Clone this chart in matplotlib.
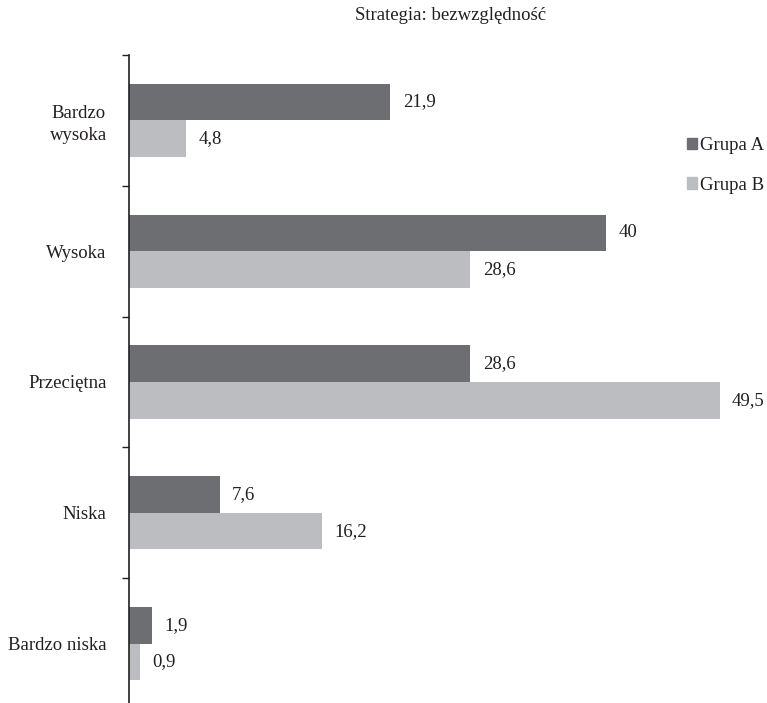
import numpy as np
import matplotlib.pyplot as plt
from matplotlib.patches import Patch

plt.rcParams['font.family'] = ['Liberation Serif', 'DejaVu Serif']

categories = ["Bardzo\nwysoka", "Wysoka", "Przeciętna", "Niska", "Bardzo niska"]
grupa_a = [21.9, 40, 28.6, 7.6, 1.9]
grupa_b = [4.8, 28.6, 49.5, 16.2, 0.9]
series_names = ["Grupa A", "Grupa B"]
title = "Strategia: bezwzględność"

dark = "#6d6e72"
light = "#bcbdc1"
ink = "#231f20"
fs = 13.5

W, H = 767, 703
fig = plt.figure(figsize=(W / 100, H / 100), dpi=100)
ax = fig.add_axes([129 / W, -6 / H, 638 / W, 654 / H])

y = np.arange(len(categories))
h = 0.28
bars_a = ax.barh(y - h / 2, grupa_a, height=h, color=dark)
bars_b = ax.barh(y + h / 2, grupa_b, height=h, color=light)

def fmt(v):
    return f"{v:g}".replace('.', ',')

for bars, vals in ((bars_a, grupa_a), (bars_b, grupa_b)):
    for b, v in zip(bars, vals):
        ax.annotate(fmt(v), (v, b.get_y() + b.get_height() / 2),
                    xytext=(9, 0), textcoords='offset points',
                    ha='left', va='center', fontsize=fs, color=ink)

ax.set_xlim(0, 638 / 11.93)
ax.set_ylim(len(categories) - 0.5, -0.5)

ax.set_yticks(y)
ax.set_yticklabels(categories, fontsize=fs, color=ink, multialignment='center',
                   linespacing=1.35)
ax.tick_params(axis='y', which='major', length=0, pad=16)
ax.set_yticks(np.arange(-0.5, len(categories) - 0.5), minor=True)
ax.tick_params(axis='y', which='minor', length=5, width=1, color=ink)

for s in ('top', 'right', 'bottom'):
    ax.spines[s].set_visible(False)
ax.spines['left'].set_color(ink)
ax.spines['left'].set_linewidth(1.2)
ax.set_xticks([])

handles = [Patch(color=dark), Patch(color=light)]
fig.legend(handles, series_names, loc='upper left',
           bbox_to_anchor=(687 / W, 1 - 137 / H), frameon=False,
           borderpad=0, borderaxespad=0,
           fontsize=fs, handlelength=0.55, handleheight=0.55,
           handletextpad=0.15, labelspacing=1.2, labelcolor=ink)

fig.text(451 / W, 1 - 16 / H, title, ha='center', va='center',
         fontsize=fs, color=ink)

fig.savefig("out.png", dpi=100)
